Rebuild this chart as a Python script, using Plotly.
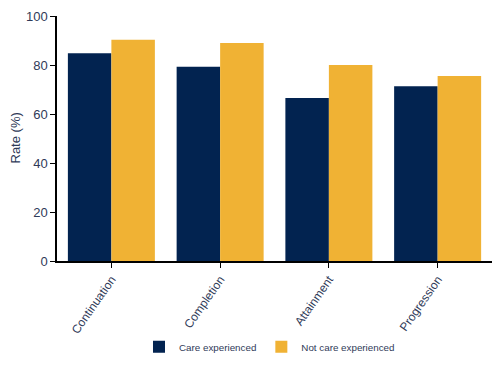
import plotly.graph_objects as go

categories = ["Continuation", "Completion", "Attainment", "Progression"]
care_experienced = [84.8, 79.3, 66.5, 71.3]
not_care_experienced = [90.3, 89.0, 80.0, 75.5]
y_ticks = [0, 20, 40, 60, 80, 100]

navy = "#022350"
gold = "#F0B234"
text_col = "#2f3a58"

fig = go.Figure()
fig.add_trace(go.Bar(x=categories, y=care_experienced, name="Care experienced",
                     marker=dict(color=navy, line=dict(width=0))))
fig.add_trace(go.Bar(x=categories, y=not_care_experienced, name="Not care experienced",
                     marker=dict(color=gold, line=dict(width=0))))

fig.update_layout(
    width=492, height=359,
    margin=dict(l=49, r=8, t=8, b=106, autoexpand=False),
    paper_bgcolor="white", plot_bgcolor="white",
    barmode="group", bargap=0.2, bargroupgap=0,
    font=dict(family="Liberation Sans, Arial, sans-serif", size=13, color=text_col),
    showlegend=True,
    legend=dict(orientation="h", x=0.4885, xanchor="center", y=-0.35, yanchor="middle",
                font=dict(size=9.8, color=text_col), itemwidth=30, traceorder="normal"),
    xaxis=dict(range=[-0.5, 3.5], tickangle=-55, showline=True, linecolor="black", linewidth=1.5,
               ticks="outside", ticklen=5, tickcolor="black", automargin=False,
               tickfont=dict(size=12, color=text_col)),
    yaxis=dict(range=[0, 100], tickvals=y_ticks, showline=True, linecolor="black", linewidth=1.5,
               ticks="outside", ticklen=5, tickcolor="black", showgrid=False, zeroline=False,
               automargin=False, tickfont=dict(size=13, color=text_col)),
    annotations=[dict(text="Rate (%)", textangle=-90, showarrow=False,
                      xref="paper", yref="paper", x=-42 / 435, y=0.5,
                      xanchor="center", yanchor="middle",
                      font=dict(size=13, color=text_col))],
)

fig.write_html("out.html")
